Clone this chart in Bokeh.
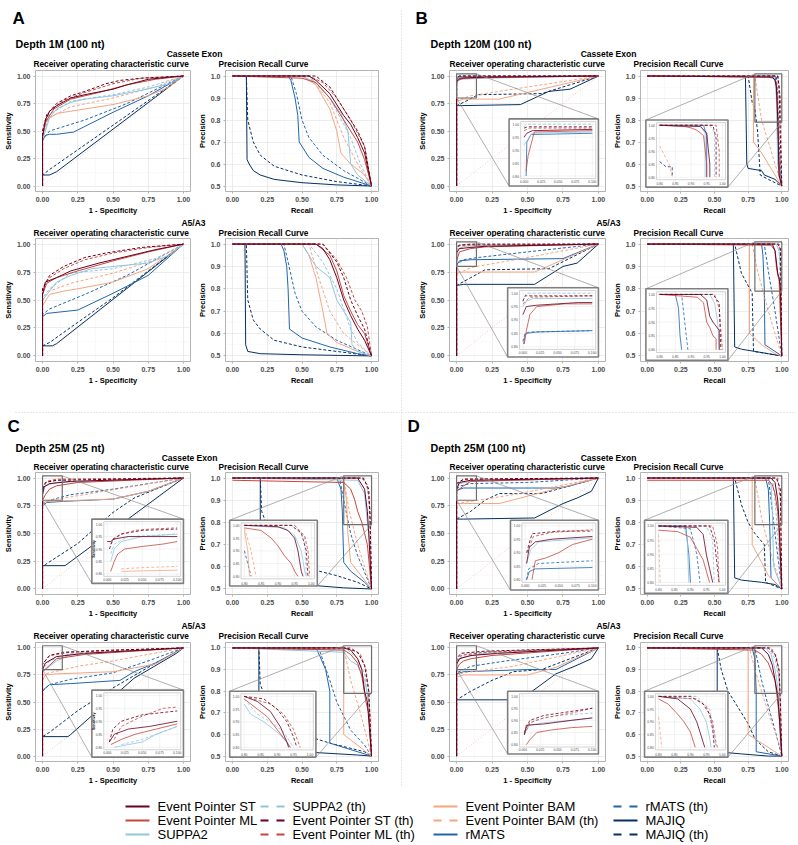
import numpy as np
from bokeh.plotting import figure
from bokeh.layouts import column, row
from bokeh.models import Range1d, FixedTicker, NumeralTickFormatter, Spacer
from bokeh.embed import file_html
from bokeh.resources import INLINE
from bokeh.core.properties import value

FONT = "Liberation Sans"

# ---------------- series ----------------
SERIES = ["EPST", "EPML", "SUPPA2", "SUPPA2_th", "EPST_th", "EPML_th",
          "BAM", "BAM_th", "RMATS", "RMATS_th", "MAJIQ", "MAJIQ_th"]
LABELS = {"EPST": "Event Pointer ST", "EPML": "Event Pointer ML", "SUPPA2": "SUPPA2",
          "SUPPA2_th": "SUPPA2 (th)", "EPST_th": "Event Pointer ST (th)",
          "EPML_th": "Event Pointer ML (th)", "BAM": "Event Pointer BAM",
          "BAM_th": "Event Pointer BAM (th)", "RMATS": "rMATS", "RMATS_th": "rMATS (th)",
          "MAJIQ": "MAJIQ", "MAJIQ_th": "MAJIQ (th)"}
COLORS = {"EPST": "#67001F", "EPML": "#C8463D", "SUPPA2": "#92C5DE", "SUPPA2_th": "#92C5DE",
          "EPST_th": "#67001F", "EPML_th": "#C8463D", "BAM": "#F4A582", "BAM_th": "#F4A582",
          "RMATS": "#2166AC", "RMATS_th": "#2166AC", "MAJIQ": "#053061", "MAJIQ_th": "#053061"}
DRAW_ORDER = ["MAJIQ_th", "MAJIQ", "RMATS_th", "RMATS", "BAM_th", "BAM", "SUPPA2_th",
              "SUPPA2", "EPML_th", "EPML", "EPST_th", "EPST"]

ROC_TICKS = [0.0, 0.25, 0.5, 0.75, 1.0]
PR_Y_TICKS = [0.5, 0.6, 0.7, 0.8, 0.9, 1.0]
ROC_IN_X = [0.0, 0.025, 0.05, 0.075, 0.1]
ROC_IN_X_LAB = ["0.000", "0.025", "0.050", "0.075", "0.100"]
IN_Y = [0.8, 0.85, 0.9, 0.95, 1.0]
IN_Y_LAB = ["0.80", "0.85", "0.90", "0.95", "1.00"]
DIAG = [0.0, 1.0]

# ---------------- Panel A : Depth 1M (100 nt) ----------------
A_CE_ROC = {
    "EPST": [(0,0),(0,0.45),(0.02,0.6),(0.05,0.68),(0.1,0.73),(0.2,0.8),(0.3,0.83),(0.5,0.88),(0.6,0.92),(0.75,0.97),(0.9,0.99),(1,1)],
    "EPST_th": [(0,0),(0,0.5),(0.03,0.65),(0.1,0.75),(0.2,0.82),(0.3,0.86),(0.45,0.93),(0.55,0.96),(0.7,0.98),(1,1)],
    "EPML": [(0,0),(0,0.45),(0.02,0.58),(0.08,0.7),(0.2,0.79),(0.4,0.85),(0.6,0.92),(0.8,0.97),(1,1)],
    "EPML_th": [(0,0),(0,0.5),(0.05,0.68),(0.15,0.78),(0.3,0.85),(0.5,0.93),(0.7,0.98),(1,1)],
    "SUPPA2": [(0,0),(0,0.42),(0.05,0.62),(0.1,0.7),(0.2,0.76),(0.3,0.79),(0.5,0.82),(0.7,0.87),(0.9,0.93),(1,1)],
    "SUPPA2_th": [(0,0),(0,0.45),(0.05,0.65),(0.2,0.77),(0.5,0.83),(0.75,0.9),(1,1)],
    "BAM": [(0,0),(0,0.45),(0.03,0.6),(0.1,0.66),(0.25,0.69),(0.5,0.74),(0.75,0.82),(0.9,0.9),(1,1)],
    "BAM_th": [(0,0),(0,0.48),(0.05,0.62),(0.2,0.72),(0.5,0.8),(0.8,0.9),(1,1)],
    "RMATS": [(0,0),(0,0.41),(0.02,0.46),(0.05,0.47),(0.1,0.47),(0.22,0.49),(0.5,0.67),(0.75,0.82),(1,1)],
    "RMATS_th": [(0,0),(0,0.42),(0.05,0.5),(0.3,0.6),(0.6,0.75),(1,1)],
    "MAJIQ": [(0,0),(0,0.1),(0.05,0.1),(0.1,0.13),(1,1)],
    "MAJIQ_th": [(0,0),(0,0.1),(0.05,0.15),(1,1)],
}
A_CE_PR = {
    "MAJIQ": [(0,1),(0.1,1),(0.105,0.62),(0.12,0.6),(0.15,0.57),(0.2,0.55),(0.3,0.53),(0.5,0.515),(0.75,0.505),(1,0.5)],
    "MAJIQ_th": [(0,1),(0.1,1),(0.11,0.8),(0.15,0.7),(0.2,0.64),(0.3,0.59),(0.5,0.55),(0.75,0.52),(1,0.5)],
    "RMATS": [(0,1),(0.4,1),(0.42,0.98),(0.45,0.9),(0.47,0.82),(0.48,0.7),(0.55,0.63),(0.65,0.58),(0.8,0.54),(1,0.5)],
    "RMATS_th": [(0,1),(0.42,1),(0.46,0.92),(0.5,0.8),(0.55,0.72),(0.65,0.64),(0.8,0.57),(1,0.5)],
    "EPST": [(0,1),(0.55,1),(0.6,0.98),(0.7,0.92),(0.8,0.82),(0.85,0.78),(0.9,0.72),(0.95,0.65),(1,0.5)],
    "EPST_th": [(0,1),(0.6,1),(0.7,0.95),(0.8,0.85),(0.9,0.75),(0.95,0.68),(1,0.5)],
    "EPML": [(0,1),(0.5,0.99),(0.6,0.97),(0.7,0.9),(0.8,0.8),(0.9,0.7),(0.95,0.62),(1,0.5)],
    "EPML_th": [(0,1),(0.55,1),(0.65,0.97),(0.75,0.9),(0.85,0.8),(0.95,0.68),(1,0.5)],
    "SUPPA2": [(0,1),(0.5,1),(0.6,0.97),(0.7,0.9),(0.78,0.83),(0.83,0.75),(0.85,0.6),(0.9,0.55),(1,0.5)],
    "SUPPA2_th": [(0,1),(0.55,1),(0.7,0.9),(0.85,0.72),(0.92,0.6),(1,0.5)],
    "BAM": [(0,1),(0.5,1),(0.6,0.96),(0.7,0.85),(0.75,0.75),(0.78,0.65),(0.85,0.6),(0.95,0.55),(1,0.5)],
    "BAM_th": [(0,1),(0.55,1),(0.7,0.88),(0.8,0.72),(0.9,0.6),(1,0.5)],
}
A_A5_ROC = {
    "EPST": [(0,0),(0,0.55),(0.02,0.66),(0.1,0.7),(0.2,0.76),(0.4,0.83),(0.6,0.89),(0.8,0.95),(1,1)],
    "EPST_th": [(0,0),(0,0.6),(0.05,0.72),(0.15,0.8),(0.3,0.88),(0.45,0.92),(0.7,0.97),(1,1)],
    "EPML": [(0,0),(0,0.55),(0.03,0.65),(0.1,0.7),(0.25,0.76),(0.5,0.85),(0.75,0.93),(1,1)],
    "EPML_th": [(0,0),(0,0.6),(0.05,0.7),(0.15,0.78),(0.3,0.86),(0.5,0.92),(0.75,0.97),(1,1)],
    "SUPPA2": [(0,0),(0,0.5),(0.05,0.58),(0.1,0.66),(0.2,0.72),(0.35,0.78),(0.5,0.8),(0.75,0.83),(0.9,0.9),(1,1)],
    "SUPPA2_th": [(0,0),(0,0.52),(0.05,0.6),(0.2,0.74),(0.5,0.78),(0.8,0.87),(1,1)],
    "BAM": [(0,0),(0,0.45),(0.05,0.55),(0.15,0.58),(0.25,0.6),(0.5,0.66),(0.75,0.78),(1,1)],
    "BAM_th": [(0,0),(0,0.5),(0.05,0.58),(0.2,0.65),(0.5,0.74),(0.8,0.86),(1,1)],
    "RMATS": [(0,0),(0,0.35),(0.03,0.38),(0.25,0.41),(0.5,0.56),(0.75,0.72),(1,1)],
    "RMATS_th": [(0,0),(0,0.37),(0.05,0.42),(0.3,0.55),(0.6,0.72),(1,1)],
    "MAJIQ": [(0,0),(0,0.09),(0.07,0.09),(0.1,0.11),(1,1)],
    "MAJIQ_th": [(0,0),(0,0.09),(0.05,0.12),(0.25,0.3),(0.5,0.52),(0.75,0.76),(1,1)],
}
A_A5_PR = {
    "MAJIQ": [(0,1),(0.09,1),(0.095,0.55),(0.11,0.52),(0.2,0.51),(0.5,0.505),(1,0.5)],
    "MAJIQ_th": [(0,1),(0.1,1),(0.11,0.75),(0.15,0.66),(0.2,0.62),(0.3,0.57),(0.5,0.54),(0.75,0.52),(1,0.5)],
    "RMATS": [(0,1),(0.35,1),(0.37,0.97),(0.39,0.9),(0.4,0.8),(0.41,0.62),(0.5,0.58),(0.7,0.54),(0.9,0.51),(1,0.5)],
    "RMATS_th": [(0,1),(0.37,1),(0.4,0.92),(0.45,0.78),(0.5,0.7),(0.6,0.63),(0.75,0.57),(1,0.5)],
    "EPST": [(0,1),(0.6,1),(0.65,0.98),(0.7,0.93),(0.75,0.85),(0.8,0.75),(0.85,0.68),(0.9,0.62),(0.95,0.57),(1,0.5)],
    "EPST_th": [(0,1),(0.65,1),(0.75,0.92),(0.8,0.85),(0.85,0.75),(0.9,0.68),(0.95,0.62),(1,0.5)],
    "EPML": [(0,1),(0.6,1),(0.7,0.95),(0.75,0.88),(0.8,0.77),(0.85,0.7),(0.9,0.64),(0.95,0.6),(1,0.5)],
    "EPML_th": [(0,1),(0.65,1),(0.75,0.93),(0.82,0.85),(0.88,0.75),(0.93,0.7),(0.97,0.63),(1,0.5)],
    "SUPPA2": [(0,1),(0.5,1),(0.55,0.95),(0.6,0.9),(0.7,0.85),(0.75,0.75),(0.8,0.7),(0.85,0.65),(0.86,0.55),(0.9,0.52),(1,0.5)],
    "SUPPA2_th": [(0,1),(0.55,1),(0.65,0.92),(0.75,0.8),(0.85,0.62),(0.9,0.56),(1,0.5)],
    "BAM": [(0,1),(0.5,1),(0.55,0.95),(0.6,0.85),(0.65,0.7),(0.68,0.6),(0.75,0.56),(0.9,0.52),(1,0.5)],
    "BAM_th": [(0,1),(0.55,1),(0.62,0.85),(0.7,0.7),(0.8,0.6),(0.9,0.55),(1,0.5)],
}

# ---------------- Panel B : Depth 120M (100 nt) ----------------
B_CE_ROC = {
    "EPST": [(0,0),(0,0.95),(0.01,0.97),(0.03,0.98),(0.2,0.99),(1,1)],
    "EPST_th": [(0,0),(0,0.98),(0.02,1.0),(1,1)],
    "EPML": [(0,0),(0,0.93),(0.01,0.96),(0.05,0.98),(0.2,0.985),(1,1)],
    "EPML_th": [(0,0),(0,0.97),(0.02,0.995),(1,1)],
    "SUPPA2": [(0,0),(0,0.94),(0.02,0.97),(0.2,0.98),(1,1)],
    "SUPPA2_th": [(0,0),(0,0.97),(0.03,0.99),(1,1)],
    "BAM": [(0,0),(0,0.77),(0.05,0.79),(0.3,0.79),(0.6,0.88),(1,1)],
    "BAM_th": [(0,0),(0,0.78),(0.1,0.82),(0.5,0.9),(1,1)],
    "RMATS": [(0,0),(0,0.97),(0.01,0.99),(1,1)],
    "RMATS_th": [(0,0),(0,0.99),(0.02,1.0),(1,1)],
    "MAJIQ": [(0,0),(0,0.73),(0.45,0.74),(0.55,0.8),(0.65,0.86),(0.8,0.88),(1,1)],
    "MAJIQ_th": [(0,0),(0,0.73),(0.08,0.78),(0.15,0.83),(0.6,0.84),(1,1)],
}
B_CE_ROC_IN = {
    "SUPPA2_th": [(0,0.99),(0.003,1.0),(0.1,1.0)],
    "EPST_th": [(0,0.985),(0.005,0.99),(0.1,0.99)],
    "EPML_th": [(0,0.975),(0.008,0.985),(0.1,0.985)],
    "EPST": [(0,0.95),(0.004,0.965),(0.012,0.975),(0.1,0.98)],
    "EPML": [(0.003,0.82),(0.006,0.88),(0.01,0.92),(0.015,0.97),(0.1,0.975)],
    "SUPPA2": [(0,0.92),(0.005,0.94),(0.012,0.965),(0.1,0.97)],
    "RMATS": [(0.003,0.8),(0.004,0.93),(0.01,0.96),(0.1,0.965)],
}
B_CE_PR = {
    "MAJIQ": [(0,1),(0.73,1),(0.74,0.6),(0.75,0.58),(0.85,0.57),(0.87,0.55),(0.95,0.53),(1,0.5)],
    "MAJIQ_th": [(0,1),(0.75,1),(0.78,0.88),(0.8,0.85),(0.82,0.75),(0.84,0.55),(0.9,0.53),(1,0.5)],
    "BAM": [(0,1),(0.79,1),(0.79,0.7),(0.85,0.65),(0.9,0.6),(0.95,0.55),(1,0.5)],
    "BAM_th": [(0,1),(0.8,1),(0.85,0.8),(0.9,0.7),(0.95,0.6),(1,0.5)],
    "RMATS": [(0,1),(0.95,1),(0.96,0.95),(0.97,0.8),(0.98,0.6),(1,0.5)],
    "RMATS_th": [(0,1),(0.96,1),(0.97,0.9),(0.98,0.7),(1,0.5)],
    "EPST": [(0,1),(0.93,0.995),(0.95,0.98),(0.96,0.95),(0.97,0.8),(0.98,0.55),(1,0.5)],
    "EPST_th": [(0,1),(0.97,1),(0.98,0.95),(0.99,0.7),(1,0.5)],
    "EPML": [(0,1),(0.9,0.995),(0.94,0.99),(0.96,0.97),(0.97,0.85),(0.98,0.55),(1,0.5)],
    "EPML_th": [(0,1),(0.97,1),(0.99,0.9),(1,0.5)],
    "SUPPA2": [(0,1),(0.93,1),(0.95,0.98),(0.96,0.9),(0.97,0.6),(1,0.5)],
    "SUPPA2_th": [(0,1),(0.97,1),(0.98,0.9),(1,0.5)],
}
B_CE_PR_IN = {
    "BAM_th": [(0.8,0.92),(0.83,0.85),(0.84,0.8)],
    "MAJIQ_th": [(0.8,0.86),(0.82,0.84),(0.84,0.84),(0.84,0.8)],
    "RMATS": [(0.8,1),(0.94,1),(0.95,0.96),(0.95,0.8)],
    "EPML": [(0.8,1.0),(0.88,0.995),(0.9,0.99),(0.92,0.98),(0.94,0.96),(0.95,0.85),(0.95,0.8)],
    "EPST": [(0.8,1.0),(0.93,0.995),(0.95,0.97),(0.96,0.85),(0.96,0.8)],
    "SUPPA2": [(0.8,1),(0.93,1),(0.945,0.97),(0.945,0.8)],
    "SUPPA2_th": [(0.8,1),(0.96,1),(0.975,0.97),(0.975,0.8)],
    "EPST_th": [(0.8,1),(0.97,1),(0.98,0.95),(0.98,0.8)],
    "EPML_th": [(0.8,1),(0.98,1),(0.99,0.9),(0.99,0.8)],
}
B_A5_ROC = {
    "EPST": [(0,0),(0,0.92),(0.02,0.96),(0.1,0.97),(0.2,0.98),(1,1)],
    "EPST_th": [(0,0),(0,0.97),(0.02,0.99),(0.1,1.0),(1,1)],
    "EPML": [(0,0),(0,0.85),(0.02,0.93),(0.1,0.96),(0.2,0.975),(1,1)],
    "EPML_th": [(0,0),(0,0.97),(0.03,0.99),(1,1)],
    "SUPPA2": [(0,0),(0,0.95),(0.05,0.98),(0.2,0.99),(1,1)],
    "SUPPA2_th": [(0,0),(0,0.98),(0.05,0.995),(1,1)],
    "BAM": [(0,0),(0,0.74),(0.05,0.75),(0.55,0.75),(0.75,0.86),(1,1)],
    "BAM_th": [(0,0),(0,0.75),(0.05,0.76),(0.1,0.79),(0.5,0.88),(1,1)],
    "RMATS": [(0,0),(0,0.81),(0.02,0.85),(0.1,0.86),(0.75,0.87),(1,1)],
    "RMATS_th": [(0,0),(0,0.82),(0.05,0.86),(0.15,0.88),(0.5,0.93),(1,1)],
    "MAJIQ": [(0,0),(0,0.63),(0.05,0.64),(0.55,0.64),(0.75,0.8),(0.85,0.83),(1,1)],
    "MAJIQ_th": [(0,0),(0,0.63),(0.1,0.7),(0.2,0.77),(0.65,0.78),(1,1)],
}
B_A5_ROC_IN = {
    "SUPPA2_th": [(0,0.97),(0.005,1.0),(0.1,1.0)],
    "EPST_th": [(0,0.97),(0.003,0.99),(0.1,0.99)],
    "EPML_th": [(0,0.96),(0.01,0.985),(0.1,0.99)],
    "SUPPA2": [(0,0.95),(0.005,0.97),(0.015,0.98),(0.1,0.98)],
    "EPST": [(0,0.92),(0.005,0.95),(0.02,0.955),(0.05,0.96),(0.08,0.965),(0.1,0.965)],
    "EPML": [(0.002,0.81),(0.005,0.86),(0.01,0.92),(0.02,0.95),(0.06,0.96),(0.1,0.96)],
    "RMATS": [(0.001,0.81),(0.003,0.84),(0.005,0.85),(0.02,0.855),(0.1,0.86)],
    "RMATS_th": [(0,0.82),(0.003,0.85),(0.01,0.855),(0.1,0.86)],
}
B_A5_PR = {
    "MAJIQ": [(0,1),(0.64,1),(0.65,0.54),(0.7,0.53),(0.8,0.52),(0.9,0.51),(1,0.5)],
    "MAJIQ_th": [(0,1),(0.65,1),(0.7,0.87),(0.78,0.78),(0.79,0.52),(1,0.5)],
    "BAM": [(0,1),(0.76,1),(0.76,0.6),(0.85,0.55),(0.95,0.51),(1,0.5)],
    "BAM_th": [(0,1),(0.78,1),(0.82,0.88),(0.9,0.7),(1,0.5)],
    "RMATS": [(0,1),(0.85,1),(0.86,0.95),(0.87,0.8),(0.875,0.55),(0.95,0.52),(1,0.5)],
    "RMATS_th": [(0,1),(0.87,1),(0.9,0.88),(0.95,0.7),(1,0.5)],
    "EPST": [(0,1),(0.93,1),(0.95,0.97),(0.96,0.92),(0.97,0.87),(0.98,0.85),(0.99,0.8),(1,0.5)],
    "EPST_th": [(0,1),(0.97,1),(0.99,0.98),(1,0.5)],
    "EPML": [(0,1),(0.92,0.995),(0.95,0.97),(0.96,0.9),(0.97,0.86),(0.98,0.84),(1,0.5)],
    "EPML_th": [(0,1),(0.98,1),(0.995,0.95),(1,0.5)],
    "SUPPA2": [(0,1),(0.96,1),(0.98,0.97),(0.99,0.9),(1,0.5)],
    "SUPPA2_th": [(0,1),(0.98,1),(1,0.5)],
}
B_A5_PR_IN = {
    "RMATS": [(0.8,1),(0.85,1),(0.86,0.95),(0.865,0.85),(0.87,0.8)],
    "RMATS_th": [(0.8,1),(0.87,1),(0.88,0.9),(0.89,0.8)],
    "EPML": [(0.8,1),(0.92,0.99),(0.94,0.97),(0.95,0.9),(0.96,0.88),(0.97,0.85),(0.98,0.84),(0.98,0.8)],
    "EPST": [(0.8,1),(0.93,1),(0.95,0.98),(0.96,0.92),(0.97,0.9),(0.99,0.87),(0.99,0.8)],
    "SUPPA2": [(0.8,1),(0.96,1),(0.975,0.97),(0.985,0.9),(0.99,0.8)],
    "EPST_th": [(0.8,1),(0.97,1),(0.99,0.97),(0.995,0.8)],
    "EPML_th": [(0.8,1),(0.975,1),(0.99,0.95),(1.0,0.8)],
}

# ---------------- Panel C : Depth 25M (25 nt) ----------------
C_CE_ROC = {
    "EPST": [(0,0),(0,0.85),(0.01,0.92),(0.05,0.95),(0.2,0.97),(1,1)],
    "EPST_th": [(0,0),(0,0.9),(0.02,0.96),(0.1,0.98),(1,1)],
    "EPML": [(0,0),(0,0.8),(0.02,0.85),(0.05,0.9),(0.1,0.93),(0.25,0.96),(1,1)],
    "EPML_th": [(0,0),(0,0.9),(0.03,0.97),(0.1,0.99),(1,1)],
    "SUPPA2": [(0,0),(0,0.85),(0.02,0.93),(0.1,0.96),(0.5,0.98),(1,1)],
    "SUPPA2_th": [(0,0),(0,0.9),(0.03,0.97),(0.3,0.99),(1,1)],
    "BAM": [(0,0),(0,0.78),(0.05,0.79),(0.5,0.81),(0.75,0.88),(1,1)],
    "BAM_th": [(0,0),(0,0.78),(0.05,0.8),(0.2,0.83),(1,1)],
    "RMATS": [(0,0),(0,0.75),(0.03,0.78),(0.15,0.79),(0.5,0.81),(0.75,0.88),(1,1)],
    "RMATS_th": [(0,0),(0,0.77),(0.05,0.8),(0.2,0.85),(0.5,0.9),(1,1)],
    "MAJIQ": [(0,0),(0,0.21),(0.16,0.21),(1,1)],
    "MAJIQ_th": [(0,0),(0,0.2),(0.02,0.22),(0.25,0.41),(0.5,0.69),(0.65,0.82),(1,1)],
}
C_CE_ROC_IN = {
    "BAM": [(0.02,0.81),(0.1,0.815)],
    "BAM_th": [(0.02,0.82),(0.05,0.825),(0.1,0.83)],
    "EPML": [(0.005,0.81),(0.01,0.85),(0.015,0.88),(0.025,0.9),(0.05,0.91),(0.08,0.92),(0.1,0.93)],
    "SUPPA2": [(0.005,0.85),(0.01,0.9),(0.02,0.93),(0.05,0.95),(0.1,0.96)],
    "SUPPA2_th": [(0.005,0.88),(0.01,0.92),(0.03,0.95),(0.1,0.96)],
    "EPST": [(0,0.93),(0.005,0.93),(0.01,0.94),(0.03,0.95),(0.1,0.95)],
    "EPST_th": [(0.003,0.9),(0.008,0.94),(0.02,0.96),(0.05,0.975),(0.1,0.98)],
    "EPML_th": [(0.005,0.92),(0.01,0.94),(0.02,0.96),(0.04,0.975),(0.06,0.98),(0.1,0.985)],
}
C_CE_PR = {
    "MAJIQ": [(0,1),(0.2,1),(0.2,0.55),(0.5,0.52),(0.8,0.505),(1,0.5)],
    "MAJIQ_th": [(0,1),(0.2,1),(0.21,0.85),(0.3,0.7),(0.5,0.6),(0.75,0.56),(0.9,0.53),(1,0.5)],
    "RMATS": [(0,1),(0.75,1),(0.78,0.95),(0.79,0.85),(0.8,0.62),(0.85,0.58),(0.95,0.53),(1,0.5)],
    "RMATS_th": [(0,1),(0.77,1),(0.8,0.9),(0.85,0.75),(0.9,0.65),(1,0.5)],
    "BAM": [(0,1),(0.75,1),(0.8,0.98),(0.82,0.9),(0.83,0.75),(0.85,0.62),(0.9,0.58),(1,0.5)],
    "BAM_th": [(0,1),(0.8,1),(0.84,0.85),(0.9,0.7),(1,0.5)],
    "EPML": [(0,0.99),(0.8,0.98),(0.85,0.95),(0.88,0.9),(0.9,0.85),(0.93,0.8),(0.95,0.75),(0.97,0.7),(1,0.5)],
    "EPML_th": [(0,1),(0.93,1),(0.97,0.97),(0.99,0.85),(1,0.5)],
    "EPST": [(0,1),(0.9,1),(0.95,0.95),(0.97,0.85),(0.98,0.75),(1,0.5)],
    "EPST_th": [(0,1),(0.94,1),(0.98,0.95),(0.99,0.8),(1,0.5)],
    "SUPPA2": [(0,1),(0.9,0.99),(0.95,0.93),(0.97,0.8),(0.99,0.7),(1,0.5)],
    "SUPPA2_th": [(0,1),(0.95,1),(0.98,0.92),(1,0.5)],
}
C_CE_PR_IN = {
    "BAM": [(0.8,0.98),(0.81,0.9),(0.815,0.8)],
    "BAM_th": [(0.8,0.99),(0.82,0.9),(0.835,0.8)],
    "RMATS_th": [(0.8,0.9),(0.81,0.85),(0.82,0.8)],
    "EPML": [(0.8,0.99),(0.85,0.98),(0.88,0.95),(0.9,0.92),(0.92,0.88),(0.94,0.85),(0.95,0.82),(0.96,0.8)],
    "EPST": [(0.8,1),(0.9,0.995),(0.93,0.98),(0.95,0.95),(0.96,0.9),(0.97,0.82),(0.975,0.8)],
    "SUPPA2": [(0.8,1),(0.92,0.99),(0.95,0.96),(0.97,0.9),(0.98,0.82),(0.985,0.8)],
    "SUPPA2_th": [(0.8,1),(0.95,1),(0.98,0.95),(0.985,0.8)],
    "EPST_th": [(0.8,1),(0.94,1),(0.97,0.97),(0.985,0.9),(0.99,0.8)],
    "EPML_th": [(0.8,1),(0.95,1),(0.98,0.96),(0.99,0.9),(0.995,0.8)],
}
C_A5_ROC = {
    "EPST": [(0,0),(0,0.8),(0.02,0.86),(0.1,0.92),(0.3,0.95),(1,1)],
    "EPST_th": [(0,0),(0,0.85),(0.05,0.93),(0.15,0.96),(0.5,0.98),(1,1)],
    "EPML": [(0,0),(0,0.78),(0.05,0.84),(0.1,0.9),(0.3,0.94),(1,1)],
    "EPML_th": [(0,0),(0,0.85),(0.05,0.93),(0.2,0.96),(1,1)],
    "SUPPA2": [(0,0),(0,0.78),(0.05,0.83),(0.1,0.88),(0.2,0.94),(1,1)],
    "SUPPA2_th": [(0,0),(0,0.8),(0.05,0.88),(0.2,0.95),(1,1)],
    "BAM": [(0,0),(0,0.7),(0.02,0.75),(0.1,0.76),(0.5,0.78),(0.8,0.85),(1,1)],
    "BAM_th": [(0,0),(0,0.75),(0.05,0.77),(0.25,0.83),(0.5,0.88),(1,1)],
    "RMATS": [(0,0),(0,0.6),(0.02,0.63),(0.05,0.66),(0.2,0.67),(0.55,0.7),(0.65,0.78),(0.8,0.86),(1,1)],
    "RMATS_th": [(0,0),(0,0.6),(0.05,0.66),(0.2,0.71),(0.5,0.77),(0.75,0.88),(1,1)],
    "MAJIQ": [(0,0),(0,0.18),(0.18,0.18),(0.2,0.2),(0.65,0.72),(0.95,0.95),(1,1)],
    "MAJIQ_th": [(0,0),(0,0.18),(0.05,0.22),(0.25,0.42),(0.5,0.63),(0.75,0.82),(1,1)],
}
C_A5_ROC_IN = {
    "SUPPA2": [(0.01,0.8),(0.03,0.81),(0.05,0.82),(0.07,0.85),(0.1,0.88)],
    "SUPPA2_th": [(0.02,0.81),(0.05,0.83),(0.08,0.86),(0.1,0.88)],
    "EPML": [(0.005,0.81),(0.02,0.83),(0.04,0.85),(0.07,0.87),(0.1,0.89)],
    "EPST": [(0.003,0.82),(0.01,0.85),(0.03,0.87),(0.06,0.88),(0.08,0.89),(0.1,0.9)],
    "EPML_th": [(0.01,0.83),(0.02,0.88),(0.05,0.92),(0.08,0.95),(0.1,0.955)],
    "EPST_th": [(0.003,0.82),(0.008,0.87),(0.02,0.9),(0.05,0.925),(0.1,0.94)],
}
C_A5_PR = {
    "MAJIQ": [(0,1),(0.19,1),(0.19,0.55),(0.5,0.52),(0.9,0.505),(1,0.5)],
    "MAJIQ_th": [(0,1),(0.19,1),(0.2,0.83),(0.3,0.68),(0.5,0.6),(0.7,0.56),(0.95,0.52),(1,0.5)],
    "RMATS": [(0,1),(0.6,1),(0.63,0.96),(0.67,0.9),(0.7,0.8),(0.7,0.56),(0.85,0.53),(1,0.5)],
    "RMATS_th": [(0,1),(0.62,1),(0.7,0.85),(0.75,0.75),(0.85,0.62),(0.95,0.55),(1,0.5)],
    "BAM": [(0,1),(0.78,1),(0.8,0.98),(0.8,0.6),(0.9,0.55),(1,0.5)],
    "BAM_th": [(0,1),(0.8,1),(0.85,0.85),(0.92,0.7),(1,0.5)],
    "EPST": [(0,1),(0.8,1),(0.85,0.99),(0.9,0.95),(0.93,0.9),(0.95,0.8),(0.97,0.75),(1,0.5)],
    "EPST_th": [(0,1),(0.82,1),(0.9,0.98),(0.95,0.92),(0.98,0.8),(1,0.5)],
    "EPML": [(0,1),(0.8,0.99),(0.85,0.97),(0.9,0.93),(0.93,0.87),(0.96,0.75),(0.98,0.7),(1,0.5)],
    "EPML_th": [(0,1),(0.85,1),(0.92,0.97),(0.96,0.9),(0.98,0.8),(1,0.5)],
    "SUPPA2": [(0,1),(0.8,0.98),(0.85,0.94),(0.9,0.92),(0.95,0.85),(0.98,0.75),(1,0.5)],
    "SUPPA2_th": [(0,1),(0.83,0.99),(0.9,0.95),(0.95,0.88),(0.99,0.7),(1,0.5)],
}
C_A5_PR_IN = {
    "SUPPA2": [(0.8,0.97),(0.82,0.93),(0.86,0.9),(0.9,0.86),(0.93,0.82),(0.94,0.8)],
    "SUPPA2_th": [(0.8,0.99),(0.84,0.93),(0.88,0.9),(0.92,0.86),(0.95,0.8)],
    "EPML": [(0.8,0.99),(0.83,0.96),(0.87,0.92),(0.9,0.87),(0.93,0.82),(0.94,0.8)],
    "EPST": [(0.8,1),(0.84,0.98),(0.88,0.94),(0.91,0.88),(0.93,0.82),(0.935,0.8)],
    "EPST_th": [(0.8,1),(0.86,0.99),(0.9,0.95),(0.93,0.9),(0.95,0.84),(0.96,0.8)],
    "EPML_th": [(0.8,1),(0.88,0.97),(0.92,0.93),(0.95,0.87),(0.97,0.8)],
}

# ---------------- Panel D : Depth 25M (100 nt) ----------------
D_CE_ROC = {
    "EPST": [(0,0),(0,0.9),(0.02,0.96),(0.1,0.98),(1,1)],
    "EPST_th": [(0,0),(0,0.95),(0.05,0.99),(1,1)],
    "EPML": [(0,0),(0,0.88),(0.05,0.93),(0.1,0.97),(1,1)],
    "EPML_th": [(0,0),(0,0.95),(0.05,0.99),(1,1)],
    "SUPPA2": [(0,0),(0,0.9),(0.02,0.95),(0.1,0.97),(1,1)],
    "SUPPA2_th": [(0,0),(0,0.93),(0.03,0.97),(1,1)],
    "BAM": [(0,0),(0,0.77),(0.05,0.77),(0.3,0.77),(0.6,0.87),(1,1)],
    "BAM_th": [(0,0),(0,0.77),(0.1,0.79),(0.4,0.85),(1,1)],
    "RMATS": [(0,0),(0,0.89),(0.05,0.91),(0.7,0.91),(0.8,0.93),(1,1)],
    "RMATS_th": [(0,0),(0,0.9),(0.03,0.93),(0.1,0.95),(0.5,0.96),(1,1)],
    "MAJIQ": [(0,0),(0,0.63),(0.05,0.63),(0.55,0.64),(0.75,0.77),(0.85,0.82),(0.95,0.88),(1,1)],
    "MAJIQ_th": [(0,0),(0,0.63),(0.1,0.7),(0.2,0.8),(0.3,0.86),(0.6,0.86),(1,1)],
}
D_CE_ROC_IN = {
    "RMATS": [(0.002,0.8),(0.006,0.83),(0.015,0.84),(0.1,0.845)],
    "RMATS_th": [(0.002,0.8),(0.005,0.84),(0.02,0.86),(0.1,0.87)],
    "EPML": [(0.01,0.8),(0.015,0.87),(0.03,0.88),(0.05,0.9),(0.07,0.93),(0.1,0.95)],
    "SUPPA2": [(0.002,0.86),(0.008,0.91),(0.02,0.94),(0.1,0.955)],
    "EPST": [(0.002,0.86),(0.006,0.92),(0.015,0.94),(0.04,0.95),(0.1,0.96)],
    "EPML_th": [(0.003,0.9),(0.012,0.96),(0.04,0.975),(0.1,0.985)],
    "EPST_th": [(0.002,0.9),(0.01,0.97),(0.05,0.98),(0.1,0.98)],
}
D_CE_PR = {
    "MAJIQ": [(0,1),(0.64,1),(0.65,0.55),(0.7,0.54),(0.85,0.53),(0.95,0.52),(1,0.5)],
    "MAJIQ_th": [(0,1),(0.65,1),(0.7,0.88),(0.75,0.8),(0.8,0.75),(0.87,0.7),(0.88,0.53),(1,0.5)],
    "BAM": [(0,1),(0.78,1),(0.78,0.7),(0.85,0.62),(0.9,0.56),(1,0.5)],
    "BAM_th": [(0,1),(0.8,1),(0.85,0.82),(0.9,0.7),(1,0.5)],
    "RMATS": [(0,1),(0.88,1),(0.9,0.95),(0.91,0.8),(0.92,0.55),(1,0.5)],
    "RMATS_th": [(0,1),(0.9,1),(0.93,0.85),(0.95,0.75),(1,0.5)],
    "EPST": [(0,1),(0.92,1),(0.95,0.98),(0.97,0.9),(0.98,0.8),(1,0.5)],
    "EPST_th": [(0,1),(0.96,1),(0.99,0.95),(1,0.5)],
    "EPML": [(0,0.99),(0.9,0.99),(0.93,0.97),(0.95,0.93),(0.97,0.85),(0.98,0.75),(1,0.5)],
    "EPML_th": [(0,1),(0.97,1),(0.99,0.9),(1,0.5)],
    "SUPPA2": [(0,1),(0.9,1),(0.92,0.97),(0.93,0.85),(0.94,0.6),(1,0.5)],
    "SUPPA2_th": [(0,1),(0.93,1),(0.95,0.9),(1,0.5)],
}
D_CE_PR_IN = {
    "BAM_th": [(0.8,0.97),(0.805,0.8)],
    "SUPPA2": [(0.8,1),(0.88,1),(0.89,0.95),(0.895,0.8)],
    "RMATS": [(0.8,1),(0.885,1),(0.895,0.9),(0.9,0.8)],
    "RMATS_th": [(0.8,1),(0.9,0.99),(0.92,0.9),(0.93,0.8)],
    "EPML": [(0.8,0.985),(0.86,0.98),(0.9,0.96),(0.92,0.92),(0.94,0.88),(0.95,0.84),(0.96,0.8)],
    "EPST": [(0.8,1),(0.92,0.995),(0.94,0.97),(0.95,0.9),(0.96,0.85),(0.97,0.8)],
    "SUPPA2_th": [(0.8,1),(0.95,1),(0.97,0.95),(0.975,0.8)],
    "EPST_th": [(0.8,1),(0.96,1),(0.975,0.95),(0.985,0.85),(0.99,0.8)],
    "EPML_th": [(0.8,1),(0.97,1),(0.985,0.93),(0.99,0.8)],
}
D_A5_ROC = {
    "EPST": [(0,0),(0,0.85),(0.02,0.9),(0.1,0.93),(0.3,0.95),(1,1)],
    "EPST_th": [(0,0),(0,0.9),(0.03,0.95),(0.2,0.97),(1,1)],
    "EPML": [(0,0),(0,0.8),(0.02,0.85),(0.05,0.88),(0.1,0.9),(0.25,0.93),(1,1)],
    "EPML_th": [(0,0),(0,0.88),(0.03,0.93),(0.2,0.96),(1,1)],
    "SUPPA2": [(0,0),(0,0.85),(0.03,0.91),(0.2,0.95),(1,1)],
    "SUPPA2_th": [(0,0),(0,0.88),(0.05,0.94),(0.3,0.97),(1,1)],
    "BAM": [(0,0),(0,0.73),(0.05,0.75),(0.5,0.75),(0.7,0.82),(1,1)],
    "BAM_th": [(0,0),(0,0.75),(0.05,0.77),(0.4,0.83),(1,1)],
    "RMATS": [(0,0),(0,0.76),(0.05,0.78),(0.5,0.8),(0.7,0.8),(1,1)],
    "RMATS_th": [(0,0),(0,0.77),(0.1,0.83),(0.35,0.88),(0.75,0.95),(1,1)],
    "MAJIQ": [(0,0),(0,0.52),(0.45,0.52),(0.7,0.76),(0.85,0.84),(0.95,0.9),(1,1)],
    "MAJIQ_th": [(0,0),(0,0.52),(0.1,0.6),(0.25,0.7),(0.4,0.78),(0.6,0.8),(1,1)],
}
D_A5_ROC_IN = {
    "EPML": [(0.005,0.8),(0.01,0.82),(0.02,0.85),(0.04,0.86),(0.07,0.87),(0.1,0.875)],
    "EPST": [(0.002,0.84),(0.005,0.88),(0.03,0.885),(0.07,0.9),(0.1,0.91)],
    "SUPPA2": [(0.003,0.85),(0.01,0.88),(0.03,0.89),(0.07,0.9),(0.1,0.91)],
    "SUPPA2_th": [(0.003,0.86),(0.015,0.9),(0.05,0.92),(0.1,0.93)],
    "EPML_th": [(0.002,0.84),(0.01,0.89),(0.03,0.91),(0.07,0.93),(0.1,0.95)],
    "EPST_th": [(0.002,0.85),(0.01,0.9),(0.03,0.92),(0.1,0.95)],
}
D_A5_PR = {
    "MAJIQ": [(0,1),(0.52,1),(0.52,0.52),(0.7,0.51),(0.9,0.5),(1,0.5)],
    "MAJIQ_th": [(0,1),(0.52,1),(0.55,0.9),(0.6,0.8),(0.7,0.7),(0.75,0.65),(0.8,0.58),(0.9,0.52),(1,0.5)],
    "BAM": [(0,1),(0.74,1),(0.75,0.98),(0.75,0.6),(0.85,0.56),(1,0.5)],
    "BAM_th": [(0,1),(0.76,1),(0.8,0.9),(0.85,0.8),(0.9,0.7),(1,0.52)],
    "RMATS": [(0,1),(0.78,1),(0.8,0.95),(0.81,0.8),(0.81,0.52),(1,0.5)],
    "RMATS_th": [(0,1),(0.8,1),(0.85,0.85),(0.9,0.73),(0.95,0.62),(1,0.5)],
    "EPST": [(0,1),(0.85,1),(0.9,0.97),(0.93,0.92),(0.95,0.85),(0.97,0.78),(0.98,0.7),(1,0.5)],
    "EPST_th": [(0,1),(0.9,1),(0.95,0.97),(0.98,0.9),(0.99,0.75),(1,0.5)],
    "EPML": [(0,1),(0.8,0.99),(0.85,0.97),(0.9,0.93),(0.95,0.85),(0.97,0.75),(0.99,0.62),(1,0.5)],
    "EPML_th": [(0,1),(0.92,1),(0.96,0.96),(0.98,0.88),(0.99,0.7),(1,0.5)],
    "SUPPA2": [(0,1),(0.88,1),(0.92,0.97),(0.95,0.9),(0.97,0.82),(0.98,0.7),(0.99,0.55),(1,0.5)],
    "SUPPA2_th": [(0,1),(0.9,1),(0.95,0.95),(0.98,0.85),(1,0.5)],
}
D_A5_PR_IN = {
    "BAM_th": [(0.8,0.92),(0.81,0.8)],
    "EPML": [(0.8,0.99),(0.83,0.97),(0.86,0.93),(0.88,0.9),(0.9,0.86),(0.91,0.82),(0.915,0.8)],
    "EPST": [(0.8,1),(0.86,0.99),(0.9,0.95),(0.92,0.9),(0.93,0.86),(0.94,0.82),(0.945,0.8)],
    "SUPPA2": [(0.8,1),(0.9,0.99),(0.93,0.95),(0.95,0.9),(0.96,0.84),(0.965,0.8)],
    "SUPPA2_th": [(0.8,1),(0.92,1),(0.96,0.95),(0.97,0.88),(0.98,0.8)],
    "EPST_th": [(0.8,1),(0.9,1),(0.94,0.97),(0.96,0.93),(0.97,0.87),(0.975,0.8)],
    "EPML_th": [(0.8,1),(0.92,0.99),(0.95,0.96),(0.97,0.9),(0.98,0.82),(0.985,0.8)],
}

# ---------------- styling helpers ----------------
def unzip(pts):
    a = np.array(pts, dtype=float)
    return a[:, 0], a[:, 1]

def style_line(key):
    return dict(line_color=COLORS[key], line_width=1.0,
                line_dash="3 2" if key.endswith("_th") else "solid")

def draw_curves(p, data, fx=None, fy=None, lw=1.0):
    for key in DRAW_ORDER:
        if key not in data:
            continue
        xs, ys = unzip(data[key])
        if fx is not None:
            xs, ys = fx(xs), fy(ys)
        st = style_line(key)
        st["line_width"] = lw
        p.line(xs, ys, **st)

def add_inset(p, kind, rect, data, ylab=False):
    X0, X1, Y0, Y1 = rect
    if kind == "roc":
        win = (-0.005, 0.105, 0.79, 1.01)
        xt, xl = ROC_IN_X, ROC_IN_X_LAB
        box = (0.0, 0.14, 0.8, 1.02)
    else:
        win = (0.79, 1.01, 0.79, 1.01)
        xt, xl = IN_Y, IN_Y_LAB
        box = (0.8, 1.0, 0.79, 1.01)
    wx0, wx1, wy0, wy1 = win
    W, H = X1 - X0, Y1 - Y0
    ix0, ix1 = X0 + 0.13 * W, X1 - 0.03 * W
    iy0, iy1 = Y0 + 0.11 * H, Y1 - 0.04 * H
    fx = lambda v: ix0 + (np.asarray(v) - wx0) / (wx1 - wx0) * (ix1 - ix0)
    fy = lambda v: iy0 + (np.asarray(v) - wy0) / (wy1 - wy0) * (iy1 - iy0)
    bx0, bx1, by0, by1 = box
    p.quad(left=[bx0], right=[bx1], bottom=[by0], top=[by1], fill_color=None,
           line_color="#6E6E6E", line_width=1.2)
    if kind == "roc":
        p.segment(x0=[bx0, bx1], y0=[by0, by1], x1=[X0, X1], y1=[Y0, Y1],
                  line_color="#8C8C8C", line_width=0.7)
    else:
        p.segment(x0=[bx0, bx1], y0=[by1, by0], x1=[X0, X1], y1=[Y1, Y0],
                  line_color="#8C8C8C", line_width=0.7)
    p.quad(left=[X0], right=[X1], bottom=[Y0], top=[Y1], fill_color="white",
           line_color="#7F7F7F", line_width=1.6)
    gx = fx(xt)
    gy = fy(IN_Y)
    p.segment(x0=gx, y0=[iy0] * len(gx), x1=gx, y1=[iy1] * len(gx), line_color="#E6E6E6", line_width=0.5)
    p.segment(x0=[ix0] * len(gy), y0=gy, x1=[ix1] * len(gy), y1=gy, line_color="#E6E6E6", line_width=0.5)
    p.quad(left=[ix0], right=[ix1], bottom=[iy0], top=[iy1], fill_color=None,
           line_color="#B3B3B3", line_width=0.6)
    draw_curves(p, data, fx, fy, lw=0.8)
    p.text(x=gx, y=[iy0 - 0.012] * len(gx), text=xl, text_font=value(FONT), text_font_size="3.3px",
           text_align="center", text_baseline="top", text_color="#4D4D4D")
    p.text(x=[ix0 - 0.012] * len(gy), y=gy, text=IN_Y_LAB, text_font=value(FONT), text_font_size="3.3px",
           text_align="right", text_baseline="middle", text_color="#4D4D4D")
    if ylab:
        p.text(x=[X0 + 0.025 * W], y=[(iy0 + iy1) / 2], text=["Sensitivity"], angle=np.pi / 2,
               text_font=value(FONT), text_font_size="3.5px", text_font_style="bold",
               text_align="center", text_baseline="middle", text_color="black")

def make_plot(kind, w, h, left, right, top, bottom, data, inset=None, inset_ylab=False):
    yr = Range1d(-0.05, 1.05) if kind == "roc" else Range1d(0.475, 1.025)
    p = figure(width=w, height=h, x_range=Range1d(-0.05, 1.05), y_range=yr,
               output_backend="svg", toolbar_location=None,
               min_border_left=left, min_border_right=right,
               min_border_top=top, min_border_bottom=bottom)
    p.background_fill_color = "white"
    p.border_fill_color = "white"
    p.outline_line_color = "#B3B3B3"
    p.outline_line_width = 1
    p.xaxis.ticker = FixedTicker(ticks=ROC_TICKS, minor_ticks=[0.125, 0.375, 0.625, 0.875])
    p.xaxis.formatter = NumeralTickFormatter(format="0.00")
    if kind == "roc":
        p.yaxis.ticker = FixedTicker(ticks=ROC_TICKS, minor_ticks=[0.125, 0.375, 0.625, 0.875])
        p.yaxis.formatter = NumeralTickFormatter(format="0.00")
        p.xaxis.axis_label = "1 - Specificity"
        p.yaxis.axis_label = "Sensitivity"
    else:
        p.yaxis.ticker = FixedTicker(ticks=PR_Y_TICKS, minor_ticks=[0.55, 0.65, 0.75, 0.85, 0.95])
        p.yaxis.formatter = NumeralTickFormatter(format="0.0")
        p.xaxis.axis_label = "Recall"
        p.yaxis.axis_label = "Precision"
    p.grid.grid_line_color = "#E0E0E0"
    p.grid.grid_line_width = 0.6
    p.grid.minor_grid_line_color = "#F2F2F2"
    p.grid.minor_grid_line_width = 0.4
    for ax in p.axis:
        ax.axis_line_color = None
        ax.major_tick_line_color = "#B3B3B3"
        ax.major_tick_out = 2
        ax.major_tick_in = 0
        ax.minor_tick_line_color = None
        ax.major_label_text_font = FONT
        ax.major_label_text_font_size = "7px"
        ax.major_label_text_font_style = "bold"
        ax.major_label_text_color = "#4D4D4D"
        ax.major_label_standoff = 1
        ax.axis_label_text_font = FONT
        ax.axis_label_text_font_size = "7.5px"
        ax.axis_label_text_font_style = "bold"
        ax.axis_label_text_color = "black"
        ax.axis_label_standoff = 1
    if kind == "roc":
        p.line(DIAG, DIAG, line_color="#F4C6B5", line_width=1.0, line_dash="1 2")
    draw_curves(p, data)
    if inset is not None:
        add_inset(p, kind, inset[0], inset[1], ylab=inset_ylab)
    return p

def header(w, h, items, hline=None):
    p = figure(width=w, height=h, x_range=Range1d(0, w), y_range=Range1d(h, 0),
               output_backend="svg", toolbar_location=None, x_axis_type=None, y_axis_type=None,
               min_border_left=0, min_border_right=0, min_border_top=0, min_border_bottom=0)
    p.grid.visible = False
    p.outline_line_color = None
    p.background_fill_color = "white"
    p.border_fill_color = "white"
    if hline is not None:
        p.segment(x0=[hline[0]], y0=[hline[2]], x1=[hline[1]], y1=[hline[2]],
                  line_color="#CFCFCF", line_width=1, line_dash="1 2")
    for (x, y, txt, size, align) in items:
        p.text(x=[x], y=[y], text=[txt], text_font=value(FONT), text_font_size=size,
               text_font_style="bold", text_align=align, text_baseline="middle", text_color="black")
    return p

ROC_T = "Receiver operating characteristic curve"
PR_T = "Precision Recall Curve"

# ---- panel A (x 0-400) ----
hA1 = header(400, 69, [(12, 17.5, "A", "17px", "left"), (15, 43, "Depth 1M (100 nt)", "10.7px", "left"),
                       (194, 53, "Cassete Exon", "8.5px", "center"), (33, 63, ROC_T, "8.3px", "left"),
                       (218, 63, PR_T, "8.3px", "left")])
rA1 = make_plot("roc", 194, 148, 33, 4, 1, 20, A_CE_ROC)
pA1 = make_plot("pr", 206, 148, 24, 22, 1, 20, A_CE_PR)
hA2 = header(400, 20, [(193, 5, "A5/A3", "8.5px", "center"), (33, 15, ROC_T, "8.3px", "left"),
                       (218, 15, PR_T, "8.3px", "left")])
rA2 = make_plot("roc", 194, 150, 33, 4, 1, 20, A_A5_ROC)
pA2 = make_plot("pr", 206, 150, 24, 22, 1, 20, A_A5_PR)

# ---- panel B (x 402-796) ----
hB1 = header(394, 69, [(13, 17.5, "B", "17px", "left"), (28, 43, "Depth 120M (100 nt)", "10.7px", "left"),
                       (206, 53, "Cassete Exon", "8.5px", "center"), (47, 63, ROC_T, "8.3px", "left"),
                       (231, 63, PR_T, "8.3px", "left")])
rB1 = make_plot("roc", 207, 148, 47, 4, 1, 20, B_CE_ROC, ((0.37, 1.0, 0.0, 0.61), B_CE_ROC_IN))
pB1 = make_plot("pr", 187, 148, 24, 8, 1, 20, B_CE_PR, ((-0.01, 0.6, 0.495, 0.80), B_CE_PR_IN))
hB2 = header(394, 20, [(206, 5, "A5/A3", "8.5px", "center"), (47, 15, ROC_T, "8.3px", "left"),
                       (231, 15, PR_T, "8.3px", "left")])
rB2 = make_plot("roc", 207, 150, 47, 4, 1, 20, B_A5_ROC, ((0.36, 1.0, -0.01, 0.61), B_A5_ROC_IN))
pB2 = make_plot("pr", 187, 150, 24, 8, 1, 20, B_A5_PR, ((-0.01, 0.6, 0.48, 0.80), B_A5_PR_IN))

# ---- panel C ----
hC1 = header(400, 61, [(7, 16, "C", "17px", "left"), (15, 37, "Depth 25M (25 nt)", "10.7px", "left"),
                       (189, 47, "Cassete Exon", "8.5px", "center"), (33, 56.5, ROC_T, "8.3px", "left"),
                       (218, 56.5, PR_T, "8.3px", "left")], hline=(15, 400, 2))
rC1 = make_plot("roc", 194, 149, 33, 4, 1, 20, C_CE_ROC, ((0.35, 1.0, 0.05, 0.63), C_CE_ROC_IN), True)
pC1 = make_plot("pr", 206, 149, 24, 22, 1, 20, C_CE_PR, ((-0.02, 0.61, 0.513, 0.81), C_CE_PR_IN))
hC2 = header(400, 21, [(193, 5.5, "A5/A3", "8.5px", "center"), (33, 15.5, ROC_T, "8.3px", "left"),
                       (218, 15.5, PR_T, "8.3px", "left")])
rC2 = make_plot("roc", 194, 146, 33, 4, 1, 20, C_A5_ROC, ((0.35, 1.0, -0.01, 0.61), C_A5_ROC_IN), True)
pC2 = make_plot("pr", 206, 146, 24, 22, 1, 20, C_A5_PR, ((-0.02, 0.6, 0.495, 0.80), C_A5_PR_IN))

# ---- panel D ----
hD1 = header(394, 61, [(5, 16, "D", "17px", "left"), (28, 37, "Depth 25M (100 nt)", "10.7px", "left"),
                       (206, 47, "Cassete Exon", "8.5px", "center"), (47, 56.5, ROC_T, "8.3px", "left"),
                       (231, 56.5, PR_T, "8.3px", "left")], hline=(0, 394, 2))
rD1 = make_plot("roc", 207, 149, 47, 4, 1, 20, D_CE_ROC, ((0.38, 1.0, -0.01, 0.62), D_CE_ROC_IN))
pD1 = make_plot("pr", 187, 149, 24, 8, 1, 20, D_CE_PR, ((-0.02, 0.6, 0.48, 0.81), D_CE_PR_IN))
hD2 = header(394, 21, [(206, 5.5, "A5/A3", "8.5px", "center"), (47, 15.5, ROC_T, "8.3px", "left"),
                       (231, 15.5, PR_T, "8.3px", "left")])
rD2 = make_plot("roc", 207, 146, 47, 4, 1, 20, D_A5_ROC, ((0.36, 1.0, 0.02, 0.60), D_A5_ROC_IN))
pD2 = make_plot("pr", 187, 146, 24, 8, 1, 20, D_A5_PR, ((-0.02, 0.6, 0.495, 0.80), D_A5_PR_IN))

# ---- vertical separator ----
VH = 69 + 148 + 20 + 150 + 23 + 61 + 149 + 21 + 146
vsep = figure(width=2, height=VH, x_range=Range1d(0, 2), y_range=Range1d(VH, 0),
              output_backend="svg", toolbar_location=None, x_axis_type=None, y_axis_type=None,
              min_border_left=0, min_border_right=0, min_border_top=0, min_border_bottom=0)
vsep.grid.visible = False
vsep.outline_line_color = None
vsep.segment(x0=[1], y0=[10], x1=[1], y1=[VH], line_color="#CFCFCF", line_width=1, line_dash="1 2")

# ---- legend ----
leg = figure(width=796, height=56, x_range=Range1d(0, 796), y_range=Range1d(56, 0),
             output_backend="svg", toolbar_location=None, x_axis_type=None, y_axis_type=None,
             min_border_left=0, min_border_right=0, min_border_top=0, min_border_bottom=0)
leg.grid.visible = False
leg.outline_line_color = None
COL_X = [125, 260, 433, 613]
ROW_Y = [19, 33, 47]
for i, key in enumerate(SERIES):
    cx, ry = COL_X[i // 3], ROW_Y[i % 3]
    dash = "8 8" if key.endswith("_th") else "solid"
    leg.segment(x0=[cx], y0=[ry], x1=[cx + 24], y1=[ry], line_color=COLORS[key],
                line_width=2, line_dash=dash)
    leg.text(x=[cx + 32], y=[ry], text=[LABELS[key]], text_font=value(FONT),
             text_font_size="13px", text_align="left", text_baseline="middle", text_color="black")

left_col = column(hA1, row(rA1, pA1), hA2, row(rA2, pA2), Spacer(width=400, height=23),
                  hC1, row(rC1, pC1), hC2, row(rC2, pC2))
right_col = column(hB1, row(rB1, pB1), hB2, row(rB2, pB2), Spacer(width=394, height=23),
                   hD1, row(rD1, pD1), hD2, row(rD2, pD2))
page = column(row(left_col, vsep, right_col), leg)

open("out.html", "w").write(file_html(page, INLINE))
